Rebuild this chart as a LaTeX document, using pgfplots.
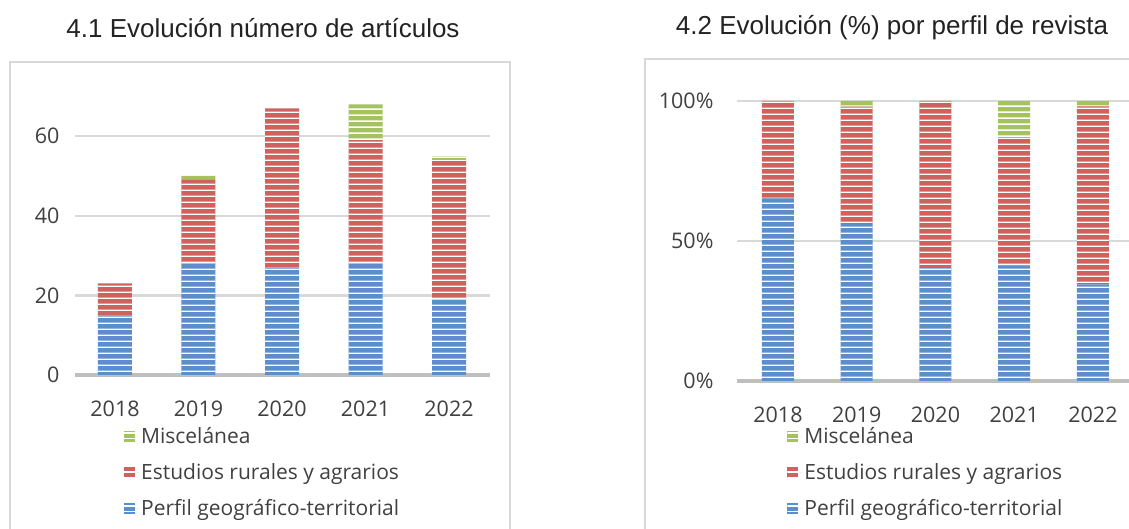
\documentclass[border=0pt]{standalone}
\usepackage{pgfplots}
\pgfplotsset{compat=1.18}
\usepackage{fontspec}
\setmainfont{Open Sans}
\newfontfamily\titlefont{Liberation Sans}
\usetikzlibrary{patterns.meta}
\definecolor{cblue}{HTML}{5B8FCB}
\definecolor{cred}{HTML}{CF625F}
\definecolor{cgreen}{HTML}{A4C25E}
\definecolor{boxgray}{HTML}{D9D9D9}
\definecolor{gridgray}{HTML}{D9D9D9}
\definecolor{axisgray}{HTML}{BFBFBF}
\definecolor{tickcol}{HTML}{404040}
\definecolor{titlecol}{HTML}{222222}

\tikzdeclarepattern{
  name=hstripes,
  type=uncolored,
  bounding box={(0pt,0pt) and (1200pt,5.6pt)},
  tile size={(1200pt,5.6pt)},
  code={\fill (0pt,0pt) rectangle (1200pt,1.6pt);}
}

\pgfplotsset{
  limg/.style={legend image code/.code={\path (0pt,0pt) -- (15pt,0pt);\fill[##1] (0pt,-5.5pt) rectangle (11pt,5.5pt);}},
  sblue/.style={fill=cblue, draw=none, postaction={pattern=hstripes, pattern color=white}, limg},
  sred/.style={fill=cred, draw=none, postaction={pattern=hstripes, pattern color=white}, limg},
  sgreen/.style={fill=cgreen, draw=none, postaction={pattern=hstripes, pattern color=white}, limg},
  mychart/.style={
    scale only axis, ybar stacked, bar width=34pt,
    axis lines*=left,
    x axis line style={line width=4.5pt, color=axisgray, -},
    y axis line style={draw=none},
    ymajorgrids, grid style={line width=2.5pt, color=gridgray},
    major tick length=0pt,
    xtick={0,1,2,3,4},
    xticklabels={2018,2019,2020,2021,2022},
    /pgf/number format/assume math mode=true,
    tick label style={font=\fontsize{21.5}{25}\selectfont, text=tickcol},
    xticklabel style={yshift=-22pt},
    legend style={draw=none, fill=none, font=\fontsize{21}{25}\selectfont, text=tickcol, row sep=14.5pt, inner sep=0pt},
    legend cell align=left,
    reverse legend,
  }
}

\begin{document}
\begin{tikzpicture}[x=1pt,y=1pt]
\useasboundingbox (0,0) rectangle (1129,529);
\draw[boxgray, line width=2.5pt] (10,-10) -- (10,467) -- (510,467) -- (510,-10);
\draw[boxgray, line width=2.5pt] (645,-10) -- (645,470) -- (1140,470);
\node[font=\titlefont\fontsize{26}{30}\selectfont, text=titlecol] at (263,501) {4.1 Evolución número de artículos};
\node[font=\titlefont\fontsize{26}{30}\selectfont, text=titlecol] at (892,501) {4.2 Evolución (\%) por perfil de revista};

\begin{axis}[mychart,
  at={(75pt,154pt)}, anchor=south west,
  width=415pt, height=278.6pt,
  xmin=-0.479, xmax=4.491, ymin=0, ymax=70,
  ytick={0,20,40,60}, yticklabels={0,20,40,60},
  yticklabel style={anchor=east, xshift=-12pt},
  legend style={at={(0.118,-0.180)}, anchor=north west},
]
\addplot[sblue] coordinates {(0,15) (1,28) (2,27) (3,28) (4,19)};
\addlegendentry{Perfil geográfico-territorial}
\addplot[sred] coordinates {(0,8) (1,21) (2,40) (3,31) (4,35)};
\addlegendentry{Estudios rurales y agrarios}
\addplot[sgreen] coordinates {(0,0) (1,1) (2,0) (3,9) (4,1)};
\addlegendentry{Miscelánea}
\end{axis}

\begin{axis}[mychart,
  at={(737pt,148pt)}, anchor=south west,
  width=395.3pt, height=280pt,
  xmin=-0.52, xmax=4.5, ymin=0, ymax=100,
  ytick={0,50,100}, yticklabels={0\%,50\%,100\%},
  yticklabel style={anchor=east, xshift=-20pt},
  bar width=32pt,
  legend style={at={(0.127,-0.158)}, anchor=north west},
]
\addplot[sblue] coordinates {(0,65.2) (1,56.0) (2,40.3) (3,41.2) (4,34.5)};
\addlegendentry{Perfil geográfico-territorial}
\addplot[sred] coordinates {(0,34.8) (1,42.0) (2,59.7) (3,45.6) (4,63.6)};
\addlegendentry{Estudios rurales y agrarios}
\addplot[sgreen] coordinates {(0,0) (1,2.0) (2,0) (3,13.2) (4,1.9)};
\addlegendentry{Miscelánea}
\end{axis}
\end{tikzpicture}
\end{document}
